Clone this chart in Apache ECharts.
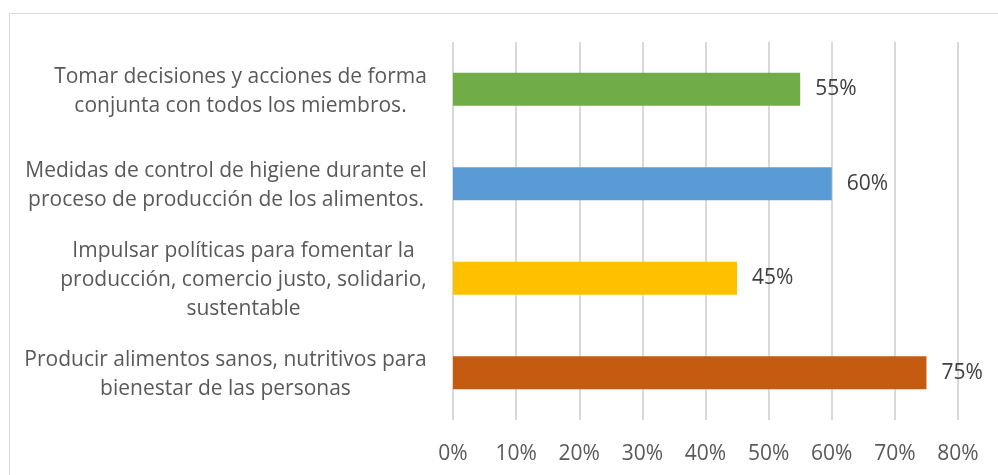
<!DOCTYPE html>
<html>
<head>
<meta charset="utf-8">
<script src="https://cdn.jsdelivr.net/npm/echarts@6/dist/echarts.min.js"></script>
<style>
  html, body { margin: 0; padding: 0; background: #fff; }
  #chart { width: 998px; height: 475px; }
</style>
</head>
<body>
<div id="chart"></div>
<script>
// categorias (de arriba hacia abajo), cada una con sus líneas
const categories = [
  ['Tomar decisiones y acciones de forma', 'conjunta con todos los miembros.'],
  ['Medidas de control de higiene durante el', 'proceso de producción de los alimentos.'],
  ['Impulsar políticas para fomentar la', 'producción, comercio justo, solidario,', 'sustentable'],
  ['Producir alimentos sanos, nutritivos para', 'bienestar de las personas']
];
const values = [55, 60, 45, 75];
const barColors = ['#70AD47', '#5B9BD5', '#FFC000', '#C55A11'];
const tickMax = 80;

const FONT = '"Open Sans", sans-serif';
const LABEL_SIZE = 21;

// ancho de cada bloque de texto para centrar las líneas dentro del bloque
const ctx = document.createElement('canvas').getContext('2d');
ctx.font = LABEL_SIZE + 'px ' + FONT;
const rich = {};
categories.forEach((lines, i) => {
  const w = Math.max(...lines.map(l => ctx.measureText(l).width));
  rich['c' + i] = {
    width: Math.ceil(w) + 2,
    align: 'center',
    fontSize: LABEL_SIZE,
    fontFamily: FONT,
    color: '#595959',
    lineHeight: 29
  };
});

const chart = echarts.init(document.getElementById('chart'));

const option = {
  backgroundColor: '#fff',
  animation: false,
  graphic: [{
    type: 'rect',
    shape: { x: 9.5, y: 13.5, width: 1200, height: 600 },
    style: { fill: 'none', stroke: '#d9d9d9', lineWidth: 1 },
    silent: true
  }],
  grid: {
    left: 453,
    right: 40,
    top: 42,
    bottom: 55,
    containLabel: false
  },
  xAxis: {
    type: 'value',
    min: 0,
    max: tickMax,
    interval: 10,
    axisLine: { show: false },
    axisTick: { show: false },
    axisLabel: {
      formatter: '{value}%',
      color: '#595959',
      fontSize: LABEL_SIZE,
      fontFamily: FONT,
      margin: 24
    },
    splitLine: { lineStyle: { color: '#d9d9d9', width: 2 } }
  },
  yAxis: {
    type: 'category',
    inverse: true,
    data: categories.map((l, i) => i),
    axisLine: { show: false },
    axisTick: { show: false },
    axisLabel: {
      margin: 25,
      align: 'right',
      padding: [4, 0, 0, 0],
      formatter: (v, idx) => categories[idx].map(l => '{c' + idx + '|' + l + '}').join('\n'),
      rich: rich
    }
  },
  series: [{
    type: 'bar',
    barWidth: 33,
    data: values.map((v, i) => ({ value: v, itemStyle: { color: barColors[i] } })),
    label: {
      show: true,
      position: 'right',
      distance: 15,
      formatter: '{c}%',
      color: '#404040',
      fontSize: LABEL_SIZE,
      fontFamily: FONT
    }
  }]
};

chart.setOption(option);
</script>
</body>
</html>
